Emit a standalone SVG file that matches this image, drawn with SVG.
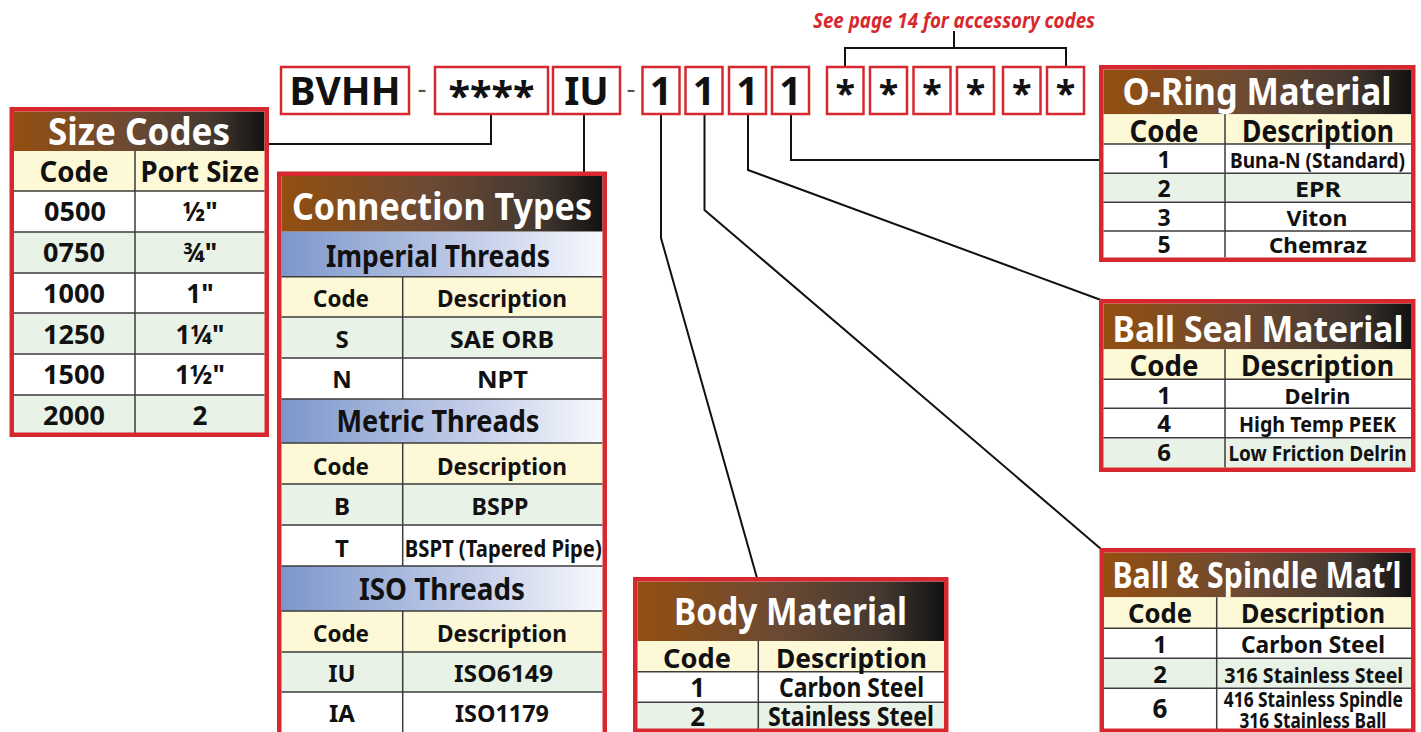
<svg xmlns="http://www.w3.org/2000/svg" width="1421" height="732" viewBox="0 0 1421 732">
<defs>
<linearGradient id="hg" x1="0" y1="0" x2="1" y2="0">
<stop offset="0" stop-color="#934f10"/>
<stop offset="0.45" stop-color="#6d4a33"/>
<stop offset="0.8" stop-color="#433830"/>
<stop offset="1" stop-color="#121212"/>
</linearGradient>
<linearGradient id="bg" x1="0" y1="0" x2="1" y2="0">
<stop offset="0" stop-color="#7d97cb"/>
<stop offset="0.6" stop-color="#c3cde8"/>
<stop offset="1" stop-color="#f8f9fd"/>
</linearGradient>
<style>
text{font-family:"Noto Sans","Open Sans","Liberation Sans",sans-serif;font-weight:bold;text-anchor:middle;fill:#111}
.t{fill:#fff}
.y{fill:#fdf8d6}
.w{fill:#fff}
.g{fill:#e8f2e6}
.h{fill:url(#hg)}
.b{fill:url(#bg)}
.grid{stroke:#3c3c3c;stroke-width:1.5;fill:none}
.brd{fill:none;stroke:#d7282f;stroke-width:4.5}
.box{fill:#fff;stroke:#d7282f;stroke-width:2.5}
.conn{fill:none;stroke:#111;stroke-width:2}
.dash{font-weight:normal;fill:#555}
.note{fill:#d7282f;font-style:italic}
</style>
</defs>

<g id="connectors">
<polyline class="conn" points="491,114 491,144 269,144"/>
<polyline class="conn" points="584,114 584,172"/>
<polyline class="conn" points="661,114 661,238 757,578"/>
<polyline class="conn" points="704.5,114 704.5,210 1101,549"/>
<polyline class="conn" points="748,114 748,170 1101,300"/>
<polyline class="conn" points="791,114 791,160 1100,160"/>
<polyline class="conn" points="845,66 845,48 1066,48 1066,66"/>
<polyline class="conn" points="954,48 954,31"/>
</g>

<g id="accessory-note">
<text class="note" x="954" y="28" font-size="21" textLength="282" lengthAdjust="spacingAndGlyphs">See page 14 for accessory codes</text>
</g>

<g id="part-number">
<rect class="box" x="281" y="67" width="128" height="47"/>
<text x="345" y="105" font-size="39" textLength="111" lengthAdjust="spacingAndGlyphs">BVHH</text>
<text class="dash" x="422" y="98" font-size="28">-</text>
<rect class="box" x="435" y="67" width="113" height="47"/>
<text x="491.5" y="110" font-size="40" textLength="86" lengthAdjust="spacingAndGlyphs">****</text>
<rect class="box" x="553" y="67" width="67" height="47"/>
<text x="586.5" y="105" font-size="39">IU</text>
<text class="dash" x="631" y="98" font-size="28">-</text>
<rect class="box" x="642.5" y="67" width="37" height="47"/>
<text x="661" y="105" font-size="39">1</text>
<rect class="box" x="685.5" y="67" width="37" height="47"/>
<text x="704" y="105" font-size="39">1</text>
<rect class="box" x="729" y="67" width="37" height="47"/>
<text x="747.5" y="105" font-size="39">1</text>
<rect class="box" x="772" y="67" width="37" height="47"/>
<text x="790.5" y="105" font-size="39">1</text>
<rect class="box" x="827" y="67" width="36.5" height="47"/>
<text x="845.3" y="106" font-size="36">*</text>
<rect class="box" x="870" y="67" width="37" height="47"/>
<text x="888.5" y="106" font-size="36">*</text>
<rect class="box" x="913.5" y="67" width="37" height="47"/>
<text x="932" y="106" font-size="36">*</text>
<rect class="box" x="957" y="67" width="37" height="47"/>
<text x="975.5" y="106" font-size="36">*</text>
<rect class="box" x="1003" y="67" width="37.5" height="47"/>
<text x="1021.8" y="106" font-size="36">*</text>
<rect class="box" x="1047" y="67" width="37" height="47"/>
<text x="1065.5" y="106" font-size="36">*</text>
</g>

<g id="size-codes">
<rect class="h" x="14" y="111.5" width="250.5" height="39.5"/>
<rect class="y" x="14" y="151" width="250.5" height="40"/>
<rect class="w" x="14" y="191" width="250.5" height="41"/>
<rect class="g" x="14" y="232" width="250.5" height="41"/>
<rect class="w" x="14" y="273" width="250.5" height="40"/>
<rect class="g" x="14" y="313" width="250.5" height="41"/>
<rect class="w" x="14" y="354" width="250.5" height="41"/>
<rect class="g" x="14" y="395" width="250.5" height="38"/>
<path class="grid" d="M14 191H264.5M14 232H264.5M14 273H264.5M14 313H264.5M14 354H264.5M14 395H264.5M135 151V433"/>
<text class="t" x="139" y="145" font-size="38" textLength="182" lengthAdjust="spacingAndGlyphs">Size Codes</text>
<text x="74" y="182" font-size="28" textLength="69" lengthAdjust="spacingAndGlyphs">Code</text>
<text x="200" y="182" font-size="28" textLength="119" lengthAdjust="spacingAndGlyphs">Port Size</text>
<text x="75" y="221" font-size="27">0500</text>
<text x="200" y="221" font-size="26">½"</text>
<text x="74" y="262" font-size="27">0750</text>
<text x="200" y="262" font-size="26">¾"</text>
<text x="74" y="302.5" font-size="27">1000</text>
<text x="200" y="302.5" font-size="26">1"</text>
<text x="74" y="343.5" font-size="27">1250</text>
<text x="200" y="343.5" font-size="26">1¼"</text>
<text x="74" y="384" font-size="27">1500</text>
<text x="200" y="384" font-size="26">1½"</text>
<text x="74" y="425" font-size="27">2000</text>
<text x="200" y="425" font-size="26">2</text>
<rect class="brd" x="11.75" y="109.25" width="255" height="325.5"/>
</g>

<g id="connection-types">
<rect class="h" x="281.5" y="176" width="321" height="55.7"/>
<rect class="b" x="281.5" y="231.7" width="321" height="45"/>
<rect class="y" x="281.5" y="276.7" width="321" height="40.3"/>
<rect class="g" x="281.5" y="317" width="321" height="41"/>
<rect class="w" x="281.5" y="358" width="321" height="41"/>
<rect class="b" x="281.5" y="399" width="321" height="44"/>
<rect class="y" x="281.5" y="443" width="321" height="41"/>
<rect class="g" x="281.5" y="484" width="321" height="41"/>
<rect class="w" x="281.5" y="525" width="321" height="41"/>
<rect class="b" x="281.5" y="566" width="321" height="45"/>
<rect class="y" x="281.5" y="611" width="321" height="41"/>
<rect class="g" x="281.5" y="652" width="321" height="40"/>
<rect class="w" x="281.5" y="692" width="321" height="45"/>
<path class="grid" d="M281.5 276.7H602.5M281.5 317H602.5M281.5 358H602.5M281.5 399H602.5M281.5 443H602.5M281.5 484H602.5M281.5 525H602.5M281.5 566H602.5M281.5 611H602.5M281.5 652H602.5M281.5 692H602.5M402.7 276.7V399M402.7 443V566M402.7 611V737"/>
<text class="t" x="442" y="219.5" font-size="38" textLength="300" lengthAdjust="spacingAndGlyphs">Connection Types</text>
<text x="438" y="267" font-size="30" textLength="224" lengthAdjust="spacingAndGlyphs">Imperial Threads</text>
<text x="341" y="307" font-size="24" textLength="56" lengthAdjust="spacingAndGlyphs">Code</text>
<text x="502" y="307" font-size="24" textLength="130" lengthAdjust="spacingAndGlyphs">Description</text>
<text x="342" y="347.5" font-size="24">S</text>
<text x="502" y="347.5" font-size="24" textLength="104" lengthAdjust="spacingAndGlyphs">SAE ORB</text>
<text x="342" y="388" font-size="24">N</text>
<text x="502.5" y="388" font-size="24" textLength="51" lengthAdjust="spacingAndGlyphs">NPT</text>
<text x="438" y="432" font-size="30" textLength="203" lengthAdjust="spacingAndGlyphs">Metric Threads</text>
<text x="341" y="474.5" font-size="24" textLength="56" lengthAdjust="spacingAndGlyphs">Code</text>
<text x="502" y="474.5" font-size="24" textLength="130" lengthAdjust="spacingAndGlyphs">Description</text>
<text x="342" y="515" font-size="24">B</text>
<text x="500" y="515" font-size="24" textLength="57" lengthAdjust="spacingAndGlyphs">BSPP</text>
<text x="342" y="556.7" font-size="24">T</text>
<text x="503.3" y="556.7" font-size="23" textLength="197" lengthAdjust="spacingAndGlyphs">BSPT (Tapered Pipe)</text>
<text x="442" y="600" font-size="30" textLength="166" lengthAdjust="spacingAndGlyphs">ISO Threads</text>
<text x="341" y="641.7" font-size="24" textLength="56" lengthAdjust="spacingAndGlyphs">Code</text>
<text x="502" y="641.7" font-size="24" textLength="130" lengthAdjust="spacingAndGlyphs">Description</text>
<text x="342" y="681.7" font-size="24">IU</text>
<text x="503.5" y="681.7" font-size="24" textLength="99" lengthAdjust="spacingAndGlyphs">ISO6149</text>
<text x="342" y="721.7" font-size="24">IA</text>
<text x="502" y="721.7" font-size="24" textLength="94" lengthAdjust="spacingAndGlyphs">ISO1179</text>
<rect class="brd" x="279.25" y="173.75" width="325.5" height="566"/>
</g>

<g id="body-material">
<rect class="h" x="637.5" y="581.5" width="306.5" height="59.5"/>
<rect class="y" x="637.5" y="641" width="306.5" height="30.7"/>
<rect class="w" x="637.5" y="671.7" width="306.5" height="30.6"/>
<rect class="g" x="637.5" y="702.3" width="306.5" height="27"/>
<path class="grid" d="M637.5 671.7H944M637.5 702.3H944M758.3 641V729"/>
<text class="t" x="790.5" y="625" font-size="37" textLength="233" lengthAdjust="spacingAndGlyphs">Body Material</text>
<text x="697" y="667.7" font-size="27" textLength="68" lengthAdjust="spacingAndGlyphs">Code</text>
<text x="851.5" y="667.7" font-size="27" textLength="151" lengthAdjust="spacingAndGlyphs">Description</text>
<text x="697.7" y="696.7" font-size="26">1</text>
<text x="851.5" y="696.7" font-size="26" textLength="145" lengthAdjust="spacingAndGlyphs">Carbon Steel</text>
<text x="697.7" y="725.7" font-size="26">2</text>
<text x="851" y="725.7" font-size="26" textLength="166" lengthAdjust="spacingAndGlyphs">Stainless Steel</text>
<rect class="brd" x="635.25" y="579.25" width="311" height="151.5"/>
</g>

<g id="o-ring-material">
<rect class="h" x="1103.5" y="69.5" width="307.5" height="44.8"/>
<rect class="y" x="1103.5" y="114.3" width="307.5" height="29.7"/>
<rect class="w" x="1103.5" y="144" width="307.5" height="29.3"/>
<rect class="g" x="1103.5" y="173.3" width="307.5" height="29"/>
<rect class="w" x="1103.5" y="202.3" width="307.5" height="55.2"/>
<path class="grid" d="M1103.5 144H1411M1103.5 173.3H1411M1103.5 202.3H1411M1103.5 231H1411M1225 114.3V257.5"/>
<text x="1164" y="141.7" font-size="30" textLength="69" lengthAdjust="spacingAndGlyphs">Code</text>
<text x="1318" y="141.7" font-size="30" textLength="152" lengthAdjust="spacingAndGlyphs">Description</text>
<text class="t" x="1257" y="105" font-size="37" textLength="269" lengthAdjust="spacingAndGlyphs">O-Ring Material</text>
<text x="1164" y="168.3" font-size="23">1</text>
<text x="1317.5" y="168" font-size="21" textLength="175" lengthAdjust="spacingAndGlyphs">Buna-N (Standard)</text>
<text x="1164" y="197.3" font-size="23">2</text>
<text x="1318" y="197.3" font-size="22" textLength="46" lengthAdjust="spacingAndGlyphs">EPR</text>
<text x="1164" y="225.7" font-size="23">3</text>
<text x="1317" y="225.7" font-size="22" textLength="61" lengthAdjust="spacingAndGlyphs">Viton</text>
<text x="1164" y="253.3" font-size="23">5</text>
<text x="1318" y="253.3" font-size="22" textLength="98" lengthAdjust="spacingAndGlyphs">Chemraz</text>
<rect class="brd" x="1101.25" y="67.25" width="312" height="192.5"/>
</g>

<g id="ball-seal-material">
<rect class="h" x="1103.5" y="303.5" width="307.5" height="45.8"/>
<rect class="y" x="1103.5" y="349.3" width="307.5" height="30"/>
<rect class="w" x="1103.5" y="379.3" width="307.5" height="58.4"/>
<rect class="g" x="1103.5" y="437.7" width="307.5" height="29.8"/>
<path class="grid" d="M1103.5 379.3H1411M1103.5 408.3H1411M1103.5 437.7H1411M1225 349.3V467.5"/>
<text x="1164" y="376" font-size="28" textLength="69" lengthAdjust="spacingAndGlyphs">Code</text>
<text x="1317.5" y="376" font-size="28" textLength="153" lengthAdjust="spacingAndGlyphs">Description</text>
<text class="t" x="1258" y="341.7" font-size="36" textLength="291" lengthAdjust="spacingAndGlyphs">Ball Seal Material</text>
<text x="1164" y="404" font-size="24">1</text>
<text x="1317.5" y="404" font-size="22" textLength="66" lengthAdjust="spacingAndGlyphs">Delrin</text>
<text x="1164" y="432.3" font-size="24">4</text>
<text x="1317.5" y="432.3" font-size="22" textLength="157" lengthAdjust="spacingAndGlyphs">High Temp PEEK</text>
<text x="1164" y="460.7" font-size="24">6</text>
<text x="1317.5" y="460.7" font-size="22" textLength="178" lengthAdjust="spacingAndGlyphs">Low Friction Delrin</text>
<rect class="brd" x="1101.25" y="301.25" width="312" height="168.5"/>
</g>

<g id="ball-spindle-material">
<rect class="h" x="1104" y="552.5" width="307" height="44.8"/>
<rect class="y" x="1104" y="597.3" width="307" height="31"/>
<rect class="w" x="1104" y="628.3" width="307" height="30"/>
<rect class="g" x="1104" y="658.3" width="307" height="30"/>
<rect class="w" x="1104" y="688.3" width="307" height="41"/>
<path class="grid" d="M1104 628.3H1411M1104 658.3H1411M1104 688.3H1411M1216.7 597.3V729"/>
<text x="1160" y="623.3" font-size="27" textLength="64" lengthAdjust="spacingAndGlyphs">Code</text>
<text x="1313" y="623.3" font-size="27" textLength="144" lengthAdjust="spacingAndGlyphs">Description</text>
<text class="t" x="1257" y="588.3" font-size="36" textLength="289" lengthAdjust="spacingAndGlyphs">Ball &amp; Spindle Mat’l</text>
<text x="1160" y="653.3" font-size="24">1</text>
<text x="1313" y="653.3" font-size="23" textLength="144" lengthAdjust="spacingAndGlyphs">Carbon Steel</text>
<text x="1160" y="682.7" font-size="24">2</text>
<text x="1313.7" y="682.7" font-size="22" textLength="179" lengthAdjust="spacingAndGlyphs">316 Stainless Steel</text>
<text x="1160" y="718.3" font-size="26">6</text>
<text x="1313.3" y="706.7" font-size="21" textLength="179" lengthAdjust="spacingAndGlyphs">416 Stainless Spindle</text>
<text x="1313" y="728.3" font-size="21" textLength="147" lengthAdjust="spacingAndGlyphs">316 Stainless Ball</text>
<rect class="brd" x="1101.75" y="550.25" width="311.5" height="180.5"/>
</g>
</svg>
